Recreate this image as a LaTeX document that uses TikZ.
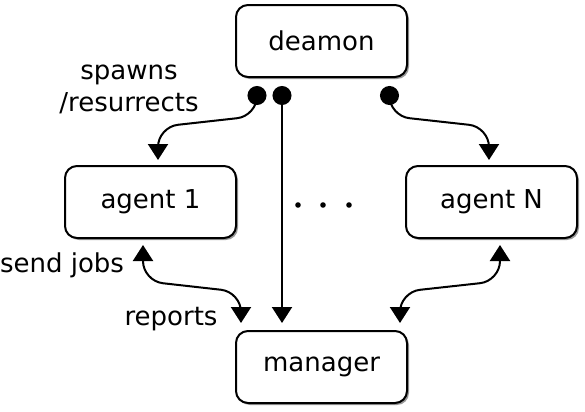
\documentclass[tikz,border=0pt]{standalone}
\usepackage{fontspec}
\setmainfont{DejaVu Sans}
\usetikzlibrary{positioning,arrows.meta,calc,shadows}

\begin{document}
\begin{tikzpicture}[
    x=0.5pt, y=-0.5pt,
    every node/.style={font=\fontsize{13}{15.5}\selectfont, align=center},
    box/.style={draw, line width=1pt, fill=white, minimum width=85.5pt, minimum height=36pt, rounded corners=6pt,
        drop shadow={shadow xshift=1pt, shadow yshift=-1pt, fill=black, opacity=0.4}},
    link/.style={line width=1pt, rounded corners=10pt},
    spawn/.style={link, {Circle[length=9.5pt]}-{Triangle[length=8pt,width=10pt]}},
    job/.style={link, {Triangle[length=8pt,width=10pt]}-{Triangle[length=8pt,width=10pt]}}
]
    \useasboundingbox (0,0) rectangle (585,412);

    \node[box] (deamon) at (321.5,41) {deamon};
    \node[box] (agent1) at (150.5,202) {agent 1};
    \node[box] (agentN) at (491.5,202) {agent N};
    \node[box] (manager) at (321.5,367) {manager};

    \node[font=\fontsize{13}{16}\selectfont] (spawnlbl) at (129,89) {spawns\\/resurrects};
    \node (sendlbl) at (62,265) {send jobs};
    \node (replbl) at (171,319) {reports};

    % dots between the agents
    \foreach \x in {298,323,349}
        \fill (\x,205) circle (1.4pt);

    \draw[spawn] ($(deamon.south)+(-64.5,8)$) -- ++(0,30) -- ($(agent1.north)+(7.5,-38)$) -- ($(agent1.north)+(7.5,-5)$);
    \draw[spawn] ($(deamon.south)+(-39.5,8)$) -- ($(manager.north)+(-39.5,-7)$);
    \draw[spawn] ($(deamon.south)+(68,8)$) -- ++(0,30) -- ($(agentN.north)+(-2.5,-38)$) -- ($(agentN.north)+(-2.5,-5)$);

    \draw[job] ($(agent1.south)+(-7.5,6)$) -- ++(0,36) -- ($(manager.north)+(-80.5,-38)$) -- ($(manager.north)+(-80.5,-7)$);
    \draw[job] ($(agentN.south)+(8.5,6)$) -- ++(0,36) -- ($(manager.north)+(78.5,-38)$) -- ($(manager.north)+(78.5,-7)$);
\end{tikzpicture}
\end{document}
